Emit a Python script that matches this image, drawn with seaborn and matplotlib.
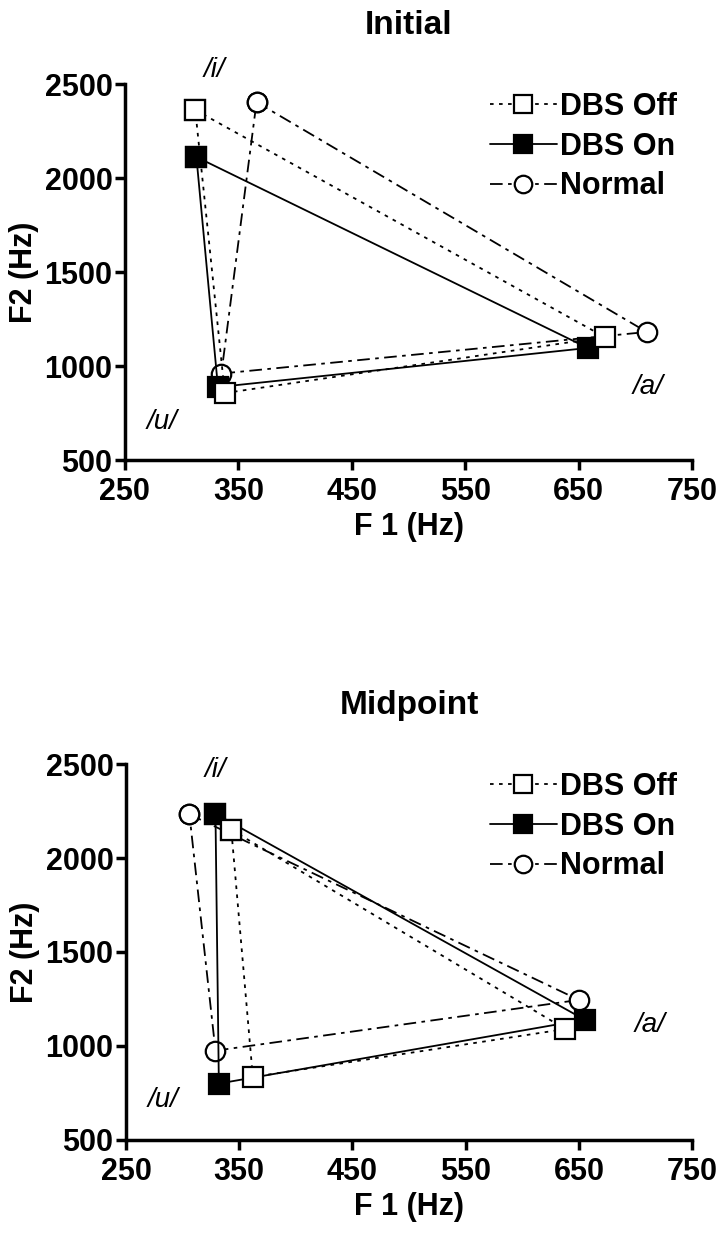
import seaborn as sns
import matplotlib.pyplot as plt
import pandas as pd

# vowel order around the triangle: /i/, /a/, /u/
vowels = ['i', 'a', 'u']
groups = ['DBS Off', 'DBS On', 'Normal']

# Initial
init_f1 = {'DBS Off': [312, 673, 338], 'DBS On': [313, 658, 332], 'Normal': [366, 710, 335]}
init_f2 = {'DBS Off': [2362, 1154, 856], 'DBS On': [2112, 1096, 888], 'Normal': [2404, 1181, 960]}

# Midpoint
mid_f1 = {'DBS Off': [343, 638, 362], 'DBS On': [329, 655, 332], 'Normal': [306, 650, 329]}
mid_f2 = {'DBS Off': [2150, 1090, 835], 'DBS On': [2235, 1140, 800], 'Normal': [2232, 1245, 975]}

# vowel label positions (F1, F2)
init_labels = {'/i/': (329, 2574), '/a/': (711, 888), '/u/': (283, 702)}
mid_labels = {'/i/': (329, 2468), '/a/': (713, 1112), '/u/': (283, 713)}

sns.set_style("ticks")
plt.rcParams['font.family'] = ['Liberation Sans', 'DejaVu Sans']
plt.rcParams['font.weight'] = 'bold'
plt.rcParams['text.color'] = 'black'
plt.rcParams['axes.labelcolor'] = 'black'
plt.rcParams['xtick.color'] = 'black'
plt.rcParams['ytick.color'] = 'black'

styles = {
    'DBS Off': dict(linestyle=(0, (2, 3)), marker='s', markerfacecolor='white'),
    'DBS On': dict(linestyle='-', marker='s', markerfacecolor='black'),
    'Normal': dict(linestyle=(0, (7, 3, 2, 3)), marker='o', markerfacecolor='white'),
}
draw_order = ['Normal', 'DBS On', 'DBS Off']


def build(f1, f2):
    rows = []
    for g in groups:
        for k in [0, 1, 2, 0]:  # close the triangle
            rows.append({'group': g, 'vowel': vowels[k], 'F1': f1[g][k], 'F2': f2[g][k]})
    return pd.DataFrame(rows)


fig = plt.figure(figsize=(7.18, 12.49), dpi=100)
ax1 = fig.add_axes([0.174, 0.6317, 0.790, 0.3010])
ax2 = fig.add_axes([0.1755, 0.0873, 0.7885, 0.3010])

panels = [(ax1, build(init_f1, init_f2), 'Initial', init_labels),
          (ax2, build(mid_f1, mid_f2), 'Midpoint', mid_labels)]

for ax, df, title, labels in panels:
    lines = {}
    for g in draw_order:
        sub = df[df['group'] == g]
        sns.lineplot(data=sub, x='F1', y='F2', sort=False, estimator=None, ax=ax,
                     color='black', linewidth=1.3, markersize=14,
                     markeredgecolor='black', markeredgewidth=1.6,
                     clip_on=False, **styles[g])
        lines[g] = ax.lines[-1]
    handles = [lines[g] for g in groups]
    ax.legend(handles, groups, loc='upper right', bbox_to_anchor=(1.0, 1.02),
              frameon=False, fontsize=22, handlelength=2.2, handletextpad=0.1,
              labelspacing=0.32, markerscale=0.9, borderaxespad=0.1)

    for txt, (x, y) in labels.items():
        ax.text(x, y, txt, fontsize=20, style='italic', fontweight='normal',
                ha='center', va='center')

    ax.set_xlim(250, 750)
    ax.set_ylim(500, 2500)
    ax.set_xticks([250, 350, 450, 550, 650, 750])
    ax.set_yticks([500, 1000, 1500, 2000, 2500])
    ax.set_xlabel('F 1 (Hz)', fontsize=22, fontweight='bold', labelpad=4)
    ax.set_ylabel('F2 (Hz)', fontsize=22, fontweight='bold', labelpad=4)
    ax.set_title(title, fontsize=24, fontweight='bold', pad=36)
    ax.tick_params(labelsize=22, width=2.5, length=7, direction='out', pad=2)
    ax.tick_params(axis='x', pad=5)
    for lab in ax.get_xticklabels() + ax.get_yticklabels():
        lab.set_fontweight('bold')
    sns.despine(ax=ax)
    for s in ['left', 'bottom']:
        ax.spines[s].set_linewidth(2.5)
        ax.spines[s].set_color('black')

fig.savefig('out.png', dpi=100)
